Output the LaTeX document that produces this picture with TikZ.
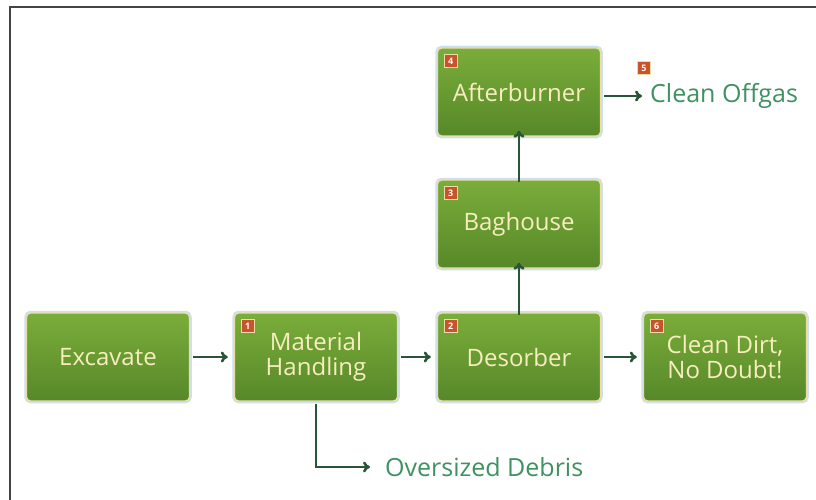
\documentclass[tikz,border=0pt]{standalone}
\usepackage{fontspec}
\setmainfont{Open Sans}
\usetikzlibrary{arrows.meta,calc}
\definecolor{boxtop}{HTML}{7AAD3A}
\definecolor{boxbot}{HTML}{578829}
\definecolor{boxrim}{HTML}{EBDDAA}
\definecolor{boxhalo}{HTML}{CFE0EC}
\definecolor{boxtext}{HTML}{F8EDBE}
\definecolor{flow}{HTML}{2B5538}
\definecolor{outtext}{HTML}{3E9160}
\definecolor{badge}{HTML}{C9532B}
\definecolor{frame}{HTML}{444444}
\tikzset{
  stage/.style={minimum width=163pt, minimum height=88pt, rounded corners=4pt,
    top color=boxtop, bottom color=boxbot, draw=boxrim, line width=1.4pt,
    text=boxtext, font=\fontsize{24}{25}\selectfont, align=center,
    preaction={draw=boxhalo, line width=4.5pt}},
  outlabel/.style={text=outtext, font=\fontsize{25}{26}\selectfont, anchor=west, inner sep=0pt},
  flowarrow/.style={draw=flow, line width=2.6pt, -{To[length=7pt,width=11pt]}},
  numtag/.style={fill=badge, draw=boxrim, line width=0.8pt, minimum size=13pt, inner sep=0pt,
    text=white, font=\fontsize{9}{9}\selectfont\bfseries}
}
\begin{document}
\begin{tikzpicture}[x=1pt,y=-1pt]
\useasboundingbox (0,0) rectangle (816,500);
\fill[white] (0,0) rectangle (816,500);
% outer frame (left and top edges)
\draw[frame, line width=2pt] (10,500) -- (10,7) -- (816,7);

% process stages
\node[stage] (exc) at (108,357) {Excavate};
\node[stage] (mat) at (316,357) {Material\\Handling};
\node[stage] (des) at (519,357) {Desorber};
\node[stage] (dirt) at (725,357) {Clean Dirt,\\No Doubt!};
\node[stage] (bag) at (519,224) {Baghouse};
\node[stage] (aft) at (519,92) {Afterburner};

% outputs
\node[outlabel] (gas) at (650,96) {Clean Offgas};
\node[outlabel] (deb) at (385,467) {Oversized Debris};

% numbered tags
\node[numtag] at ($(mat.north west)+(14,14)$) {1};
\node[numtag] at ($(des.north west)+(14,14)$) {2};
\node[numtag] at ($(bag.north west)+(14,14)$) {3};
\node[numtag] at ($(aft.north west)+(14,14)$) {4};
\node[numtag] at (644,68) {5};
\node[numtag] at ($(dirt.north west)+(14,14)$) {6};

% flow connectors
\draw[flowarrow] ([xshift=3pt]exc.east) -- ([xshift=-6pt]mat.west);
\draw[flowarrow] ([xshift=3pt]mat.east) -- ([xshift=-6pt]des.west);
\draw[flowarrow] ([xshift=3pt]des.east) -- ([xshift=-6pt]dirt.west);
\draw[flowarrow] ([yshift=-3pt]des.north) -- ([yshift=6pt]bag.south);
\draw[flowarrow] ([yshift=-3pt]bag.north) -- ([yshift=6pt]aft.south);
\draw[flowarrow] ([xshift=3pt]aft.east |- gas.west) -- ([xshift=-8pt]gas.west);
\draw[flowarrow] ([yshift=-2pt]mat.south) |- ([xshift=-15pt]deb.west);
\end{tikzpicture}
\end{document}
